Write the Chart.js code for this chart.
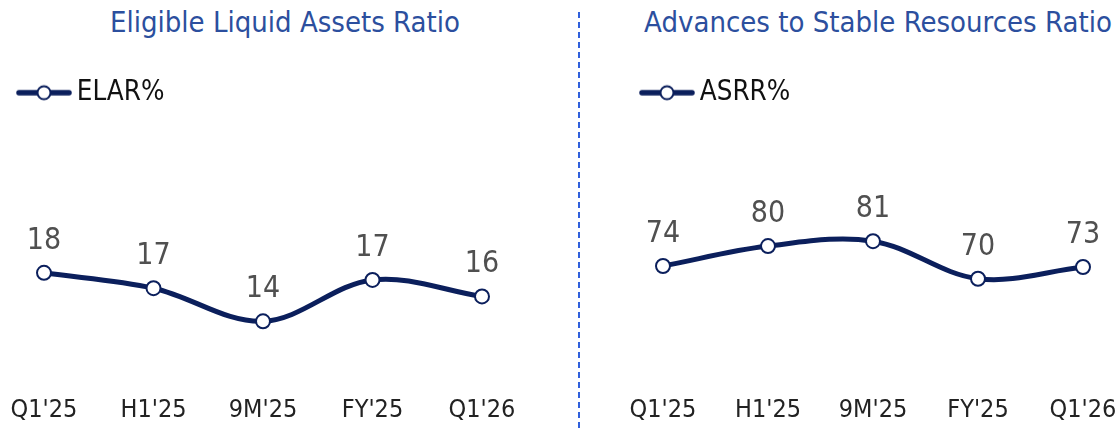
<!DOCTYPE html>
<html>
<head>
<meta charset="utf-8">
<script src="https://cdn.jsdelivr.net/npm/chart.js@4/dist/chart.umd.min.js"></script>
<style>
  html, body { margin: 0; padding: 0; background: #fff; }
  body { width: 1119px; height: 428px; overflow: hidden; position: relative; }
  .title {
    position: absolute; top: 2px; height: 40px; line-height: 40px;
    font-family: "Liberation Sans Narrow", "DejaVu Sans Condensed", Roboto, sans-serif;
    font-size: 29px; color: #2c4f9e; text-align: center; white-space: nowrap;
  }
  .panel { position: absolute; top: 0; height: 428px; }
  .sep {
    position: absolute; left: 578px; top: 12px; height: 416px; width: 2px;
    background: repeating-linear-gradient(to bottom, #3060dc 0 6px, transparent 6px 10px);
  }
</style>
</head>
<body>
<div class="title" style="left: 85px; width: 400px;">Eligible Liquid Assets Ratio</div>
<div class="title" style="left: 628px; width: 500px;">Advances to Stable Resources Ratio</div>
<div class="sep"></div>
<div class="panel" style="left: 0; width: 560px;"><canvas id="elarChart" width="560" height="428"></canvas></div>
<div class="panel" style="left: 580px; width: 560px;"><canvas id="asrrChart" width="560" height="428"></canvas></div>

<script>
// periods shared by both charts
const periods = ["Q1'25", "H1'25", "9M'25", "FY'25", "Q1'26"];

// ELAR % (labels show the rounded values)
const elarValues = [18.0, 16.7, 13.9, 17.4, 16.0];
// ASRR %
const asrrValues = [73.7, 79.8, 81.3, 69.8, 73.4];

const navy = '#0b1f5c';
const fontFamily = '"Liberation Sans Narrow", "DejaVu Sans Condensed", Roboto, sans-serif';

// legend marker: line with an open circle in the middle
function makeLegendIcon() {
  const c = document.createElement('canvas');
  c.width = 56;
  c.height = 18;
  const g = c.getContext('2d');
  g.strokeStyle = navy;
  g.lineWidth = 5.5;
  g.lineCap = 'round';
  g.beginPath();
  g.moveTo(3, 9);
  g.lineTo(53, 9);
  g.stroke();
  g.beginPath();
  g.arc(28, 9, 6.5, 0, Math.PI * 2);
  g.fillStyle = '#fff';
  g.fill();
  g.lineWidth = 2;
  g.stroke();
  return c;
}
const legendIcon = makeLegendIcon();

// draws the rounded value above every point
const valueLabels = {
  id: 'valueLabels',
  afterDatasetsDraw(chart) {
    const ctx = chart.ctx;
    ctx.save();
    ctx.font = '30px ' + fontFamily;
    ctx.fillStyle = '#505050';
    ctx.textAlign = 'center';
    ctx.textBaseline = 'alphabetic';
    chart.getDatasetMeta(0).data.forEach((pt, i) => {
      const v = chart.data.datasets[0].data[i];
      ctx.fillText(Math.round(v), pt.x, pt.y - 24);
    });
    ctx.restore();
  }
};

function buildChart(id, label, values, yMin, yMax, pad, yWidth) {
  const ctx = document.getElementById(id).getContext('2d');
  return new Chart(ctx, {
    type: 'line',
    data: {
      labels: periods,
      datasets: [{
        label: label,
        data: values,
        borderColor: navy,
        borderWidth: 5,
        tension: 0.35,
        pointRadius: 7,
        pointBackgroundColor: '#fff',
        pointBorderColor: navy,
        pointBorderWidth: 2,
        clip: false,
      }]
    },
    options: {
      responsive: false,
      animation: false,
      devicePixelRatio: 1,
      layout: { padding: pad },
      scales: {
        x: {
          grid: { display: false, drawTicks: false },
          border: { display: false },
          ticks: {
            color: '#222',
            font: { family: fontFamily, size: 25 },
            padding: 3,
            maxRotation: 0,
            autoSkip: false,
          }
        },
        y: {
          min: yMin,
          max: yMax,
          grid: { display: false, drawTicks: false },
          border: { display: false },
          ticks: { display: false },
          afterFit: (scale) => { scale.width = yWidth; }
        }
      },
      plugins: {
        legend: {
          position: 'top',
          align: 'start',
          labels: {
            color: '#111',
            font: { family: fontFamily, size: 27.5 },
            usePointStyle: true,
            pointStyle: legendIcon,
            pointStyleWidth: 38,
            padding: 10,
          }
        },
        tooltip: { enabled: false }
      }
    },
    plugins: [valueLabels]
  });
}

buildChart('elarChart', 'ELAR%', elarValues, 7.92, 31.22,
  { top: 69, left: 15, right: 78, bottom: 0 }, 29);
buildChart('asrrChart', 'ASRR%', asrrValues, 35.15, 119.44,
  { top: 69, left: 58, right: 57, bottom: 0 }, 25);
</script>
</body>
</html>
